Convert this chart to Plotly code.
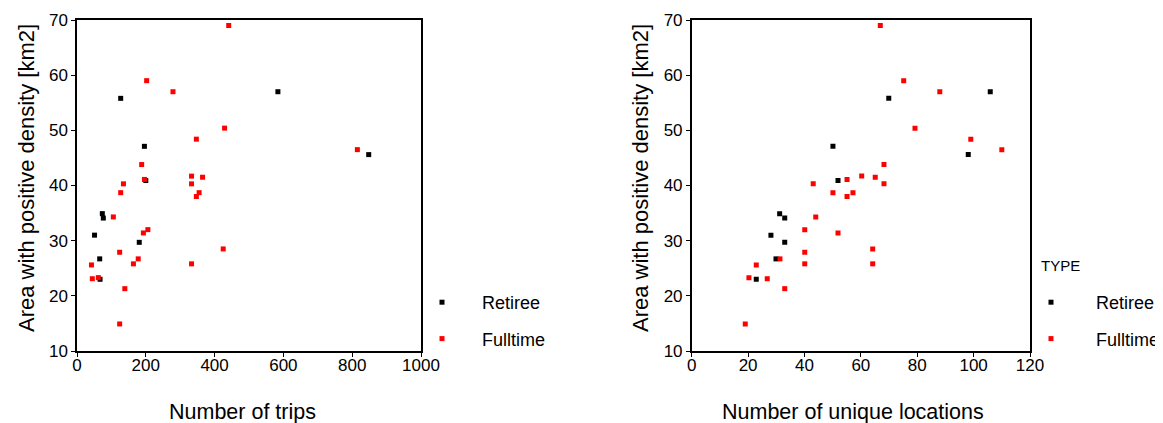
import plotly.graph_objects as go

# ---- data ----
# Retiree
retiree_area = [55.8, 57.0, 47.1, 40.9, 45.6, 34.9, 34.1, 31.0, 29.7, 26.7, 23.0]
retiree_trips = [127, 584, 196, 200, 848, 73.6, 76.5, 51, 181, 66, 67]
retiree_locations = [69.9, 105.9, 50.1, 51.9, 98.1, 31.2, 33.0, 28.1, 33.0, 29.9, 22.9]

# Fulltime
fulltime_area = [69.0, 59.0, 57.0, 50.4, 48.4, 46.5, 43.8, 41.1, 41.7, 41.5, 40.3, 40.3,
                 38.7, 38.7, 38.0, 34.3, 32.0, 31.4, 27.9, 28.5, 25.6, 25.8, 26.7, 25.8,
                 23.3, 23.1, 21.3, 14.9]
fulltime_trips = [441, 202.5, 279, 429, 347, 815, 188, 196, 333, 365, 135, 333,
                  127, 355, 347, 105.6, 206, 193, 124, 425, 42, 164, 178, 333,
                  62, 44.5, 139, 124]
fulltime_locations = [66.9, 75.2, 88.0, 79.2, 99.0, 110.0, 68.2, 55.1, 60.3, 65.1, 43.1, 68.2,
                      50.1, 57.2, 55.1, 44.0, 40.1, 51.9, 40.1, 64.2, 22.9, 40.1, 31.3, 64.2,
                      20.3, 26.8, 33.0, 19.0]

type_names = ["Retiree", "Fulltime"]
type_colors = ["#000000", "#ff0000"]

y_title = "Area with positive density [km2]"
x_titles = ["Number of trips", "Number of unique locations"]
legend_title = "TYPE"

# page body has an 8px margin; work in window pixel coordinates
OFF = 8
W, H = 1163 - OFF, 423 - OFF
FONT = "Liberation Sans, Arial, sans-serif"

def px_x(p):
    return (p - OFF) / W

def px_y(p):
    return 1 - (p - OFF) / H

fig = go.Figure()

series = [
    (retiree_trips, retiree_locations, retiree_area),
    (fulltime_trips, fulltime_locations, fulltime_area),
]

for i, (trips, locs, area) in enumerate(series):
    fig.add_trace(go.Scatter(
        x=trips, y=area, mode="markers", name=type_names[i],
        marker=dict(symbol="square", size=5, color=type_colors[i], line=dict(width=0)),
        xaxis="x", yaxis="y", legend="legend", legendgroup="g%d" % i,
    ))
for i, (trips, locs, area) in enumerate(series):
    fig.add_trace(go.Scatter(
        x=locs, y=area, mode="markers", name=type_names[i],
        marker=dict(symbol="square", size=5, color=type_colors[i], line=dict(width=0)),
        xaxis="x2", yaxis="y2", legend="legend2", legendgroup="h%d" % i,
    ))

axis_common = dict(
    showline=True, linecolor="black", linewidth=1.5, mirror=True,
    ticks="outside", ticklen=4, tickcolor="black", tickwidth=1,
    showgrid=False, zeroline=False, automargin=False,
    tickfont=dict(family=FONT, size=17, color="black"),
)
xaxis_extra = dict(ticklabelstandoff=-6)

annotations = [
    dict(text=legend_title, x=px_x(1040), y=px_y(265), xanchor="left", yanchor="middle",
         font=dict(family=FONT, size=15, color="black")),
    dict(text=x_titles[0], x=px_x(242), y=px_y(412), xanchor="center", yanchor="middle",
         font=dict(family=FONT, size=21.5, color="black")),
    dict(text=x_titles[1], x=px_x(853), y=px_y(412), xanchor="center", yanchor="middle",
         font=dict(family=FONT, size=21.5, color="black")),
    dict(text=y_title, x=px_x(26), y=px_y(178), xanchor="center", yanchor="middle", textangle=-90,
         font=dict(family=FONT, size=22, color="black")),
    dict(text=y_title, x=px_x(640), y=px_y(178), xanchor="center", yanchor="middle", textangle=-90,
         font=dict(family=FONT, size=22, color="black")),
]
for a in annotations:
    a.update(xref="paper", yref="paper", showarrow=False, borderpad=0)

fig.update_layout(
    width=W, height=H,
    margin=dict(l=0, r=0, t=0, b=0, autoexpand=False),
    paper_bgcolor="white", plot_bgcolor="white",
    font=dict(family=FONT, color="black"),
    xaxis=dict(domain=[px_x(77), px_x(421)], range=[0, 1000], dtick=200, tick0=0,
               anchor="y", **axis_common, **xaxis_extra),
    yaxis=dict(domain=[px_y(351), px_y(20)], range=[10, 70], dtick=10, tick0=10,
               anchor="x", **axis_common),
    xaxis2=dict(domain=[px_x(691.7), px_x(1030)], range=[0, 120], dtick=20, tick0=0,
                anchor="y2", **axis_common, **xaxis_extra),
    yaxis2=dict(domain=[px_y(351), px_y(20)], range=[10, 70], dtick=10, tick0=10,
                anchor="x2", **axis_common),
    legend=dict(x=px_x(402), y=px_y(284), xanchor="left", yanchor="top",
                itemwidth=70, tracegroupgap=10, traceorder="grouped",
                bgcolor="rgba(0,0,0,0)", font=dict(family=FONT, size=18)),
    legend2=dict(x=px_x(1006), y=px_y(284), xanchor="left", yanchor="top",
                 itemwidth=80, tracegroupgap=10, traceorder="grouped",
                 bgcolor="rgba(0,0,0,0)", font=dict(family=FONT, size=18)),
    annotations=annotations,
)

fig.write_html("out.html")
